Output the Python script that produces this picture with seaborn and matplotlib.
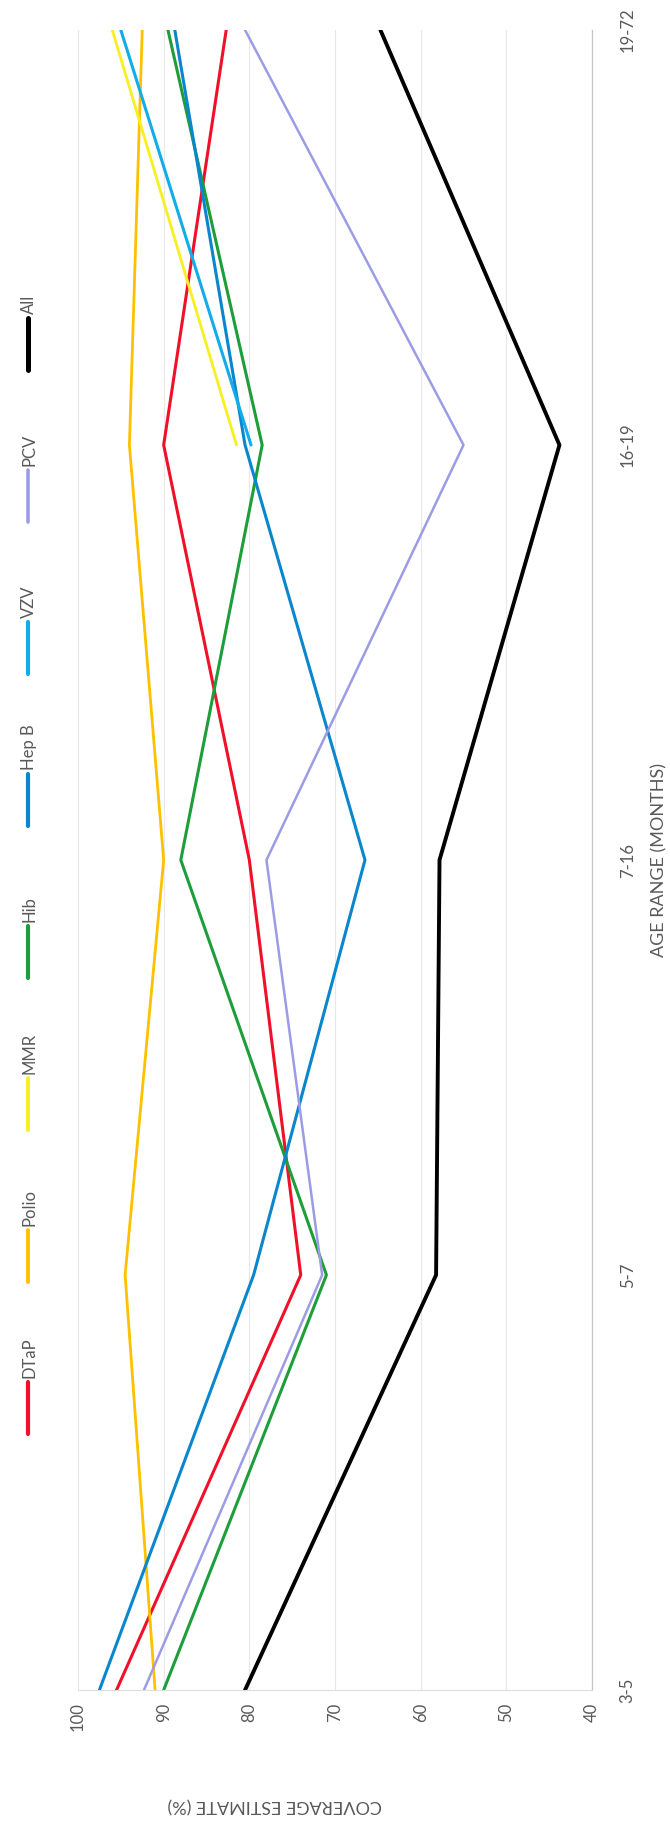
import numpy as np
import pandas as pd
import matplotlib
matplotlib.use("Agg")
import matplotlib.pyplot as plt
import seaborn as sns
from matplotlib.lines import Line2D

# Data (coverage estimate in %)
age_ranges = ["3-5", "5-7", "7-16", "16-19", "19-72"]
vaccines = ["DTaP", "Polio", "MMR", "Hib", "Hep B", "VZV", "PCV", "All"]
dtap = [95.5, 74.0, 80.0, 90.0, 82.7]
polio = [91.0, 94.5, 90.0, 94.0, 92.5]
mmr = [np.nan, np.nan, np.nan, 81.5, 96.0]
hib = [90.0, 71.0, 88.0, 78.5, 89.5]
hep_b = [97.5, 79.5, 66.5, 80.5, 88.7]
vzv = [np.nan, np.nan, np.nan, 79.8, 95.0]
pcv = [92.3, 71.5, 78.0, 55.0, 80.5]
all_vacc = [80.5, 58.2, 57.8, 43.8, 64.7]
value_ticks = [40, 50, 60, 70, 80, 90, 100]

colors = ["#F0102A", "#FFC000", "#F7F020", "#1E9E3A", "#0A86CC", "#12ADE8", "#9C9CE4", "#000000"]
widths = [2.2, 2.0, 2.0, 2.2, 2.2, 2.2, 1.8, 2.8]

series = [dtap, polio, mmr, hib, hep_b, vzv, pcv, all_vacc]
df = pd.DataFrame({
    "vaccine": np.repeat(vaccines, len(age_ranges)),
    "pos": np.tile(np.arange(len(age_ranges)), len(vaccines)),
    "coverage": np.concatenate(series),
}).dropna()

sns.set_style("white")
plt.rcParams["font.family"] = ["Lato", "DejaVu Sans"]

W, H = 670, 1823
fig = plt.figure(figsize=(W / 100, H / 100), dpi=100)


def fx(px):
    return px / W


def fy(py):
    return 1 - py / H


# Chart is drawn rotated: categories run upward, values decrease to the right
ax = fig.add_axes([fx(78), fy(1690), fx(592) - fx(78), fy(30) - fy(1690)])

for name, col, lw in zip(vaccines, colors, widths):
    sub = df[df["vaccine"] == name]
    sns.lineplot(data=sub, x="coverage", y="pos", orient="y", sort=True,
                 estimator=None, color=col, linewidth=lw, ax=ax, legend=False)

ax.set_xlim(100, 40)
ax.set_ylim(0, len(age_ranges) - 1)
ax.set_xticks(value_ticks)
ax.set_xticklabels([str(v) for v in value_ticks], rotation=90)
ax.tick_params(axis="x", length=0, pad=9, labelsize=12, labelcolor="#595959")
ax.yaxis.tick_right()
ax.set_yticks(range(len(age_ranges)))
ax.set_yticklabels(age_ranges, rotation=90, va="center")
ax.tick_params(axis="y", length=0, pad=20, labelsize=12, labelcolor="#595959")
ax.set_xlabel("")
ax.set_ylabel("")
ax.grid(axis="x", color="#E8E8E8", linewidth=0.8)
ax.grid(axis="y", visible=False)
for side in ["top", "left"]:
    ax.spines[side].set_visible(False)
ax.spines["right"].set_color("#C4C4C4")
ax.spines["right"].set_linewidth(0.9)
ax.spines["bottom"].set_color("#DDDDDD")
ax.spines["bottom"].set_linewidth(0.8)

fig.text(fx(659), fy(860), "AGE RANGE (MONTHS)", rotation=90, ha="center", va="center",
         fontsize=13, color="#595959")
fig.text(fx(275), fy(1805), "COVERAGE ESTIMATE (%)", rotation=180, ha="center", va="center",
         fontsize=13, color="#595959")

# Legend along the left edge, items stacked upward
pitch = 152
center = 860
for i, (name, col, lw) in enumerate(zip(vaccines, colors, widths)):
    cy = center + (3.5 - i) * pitch
    y_bot = cy + 42
    y_top = cy - 10
    fig.add_artist(Line2D([fx(28), fx(28)], [fy(y_bot), fy(y_top)], color=col,
                          linewidth=lw + 0.8, solid_capstyle="round"))
    fig.text(fx(29), fy(y_top - 4), name, rotation=90, ha="center", va="bottom",
             fontsize=12, color="#595959")

fig.savefig("out.png", dpi=100, facecolor="white")
